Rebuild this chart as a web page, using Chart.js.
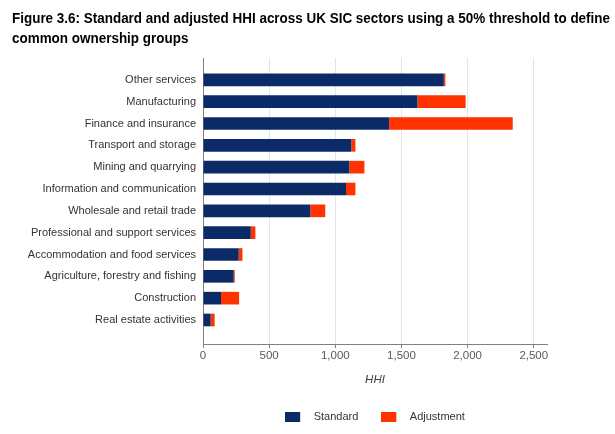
<!DOCTYPE html>
<html>
<head>
<meta charset="utf-8">
<script src="https://cdn.jsdelivr.net/npm/chart.js@4"></script>
<style>
  html, body { margin: 0; padding: 0; background: #fff; }
  #wrap { position: relative; width: 615px; height: 434px; }
  #figTitle {
    position: absolute; left: 12px; top: 8px; margin: 0;
    font: bold 15px/19.5px 'Liberation Sans', Arial, sans-serif;
    color: #000; white-space: nowrap;
    transform-origin: 0 0;
  }
</style>
</head>
<body>
<div id="wrap">
  <h1 id="figTitle"><span>Figure 3.6: Standard and adjusted HHI across UK SIC sectors using a 50% threshold to define</span><br><span>common ownership groups</span></h1>
  <canvas id="hhiChart" width="615" height="434"></canvas>
</div>
<script>
// Data
const sectors = [
    'Other services', 'Manufacturing', 'Finance and insurance', 'Transport and storage',
    'Mining and quarrying', 'Information and communication', 'Wholesale and retail trade',
    'Professional and support services', 'Accommodation and food services',
    'Agriculture, forestry and fishing', 'Construction', 'Real estate activities'
];
const standardHHI = [1820, 1621, 1407, 1121, 1106, 1081, 811, 361, 270, 232, 136, 58];
const adjustmentHHI = [12, 364, 934, 31, 114, 71, 113, 35, 28, 8, 137, 30];
const xTicks = [0, 500, 1000, 1500, 2000, 2500];

const NAVY = '#0a2b68';
const RED = '#ff3300';
const FONT = "'Liberation Sans', Arial, sans-serif";

// legend swatch: coloured 15x10 block with blank space after it
function swatch(colour) {
    const c = document.createElement('canvas');
    c.width = 23;
    c.height = 10;
    const g = c.getContext('2d');
    g.fillStyle = colour;
    g.fillRect(0, 0, 15, 10);
    return c;
}

document.addEventListener('DOMContentLoaded', function() {
    // the original heading uses a narrow bold face, squeeze it so the first line is as wide as there
    const title = document.getElementById('figTitle');
    const firstLine = title.querySelector('span').getBoundingClientRect().width;
    title.style.transform = 'scaleX(' + (598 / firstLine) + ')';

    const ctx = document.getElementById('hhiChart').getContext('2d');

    new Chart(ctx, {
        type: 'bar',
        data: {
            datasets: [{
                label: 'Standard',
                data: standardHHI.map((v, i) => ({ x: v, y: i })),
                backgroundColor: NAVY,
                pointStyle: swatch(NAVY)
            }, {
                label: 'Adjustment',
                data: adjustmentHHI.map((v, i) => ({ x: v, y: i })),
                backgroundColor: RED,
                pointStyle: swatch(RED)
            }]
        },
        options: {
            indexAxis: 'y',
            responsive: false,
            animation: false,
            categoryPercentage: 1,
            barPercentage: 0.58,
            layout: { padding: { left: 12, right: 68, top: 58, bottom: 12 } },
            scales: {
                x: {
                    type: 'linear',
                    stacked: true,
                    min: 0,
                    max: 2600,
                    afterBuildTicks: function(scale) {
                        scale.ticks = xTicks.map(v => ({ value: v }));
                    },
                    afterFit: function(scale) {
                        scale.height = 44;
                    },
                    grid: { color: '#dde7ee', tickColor: '#808080', tickLength: 4 },
                    border: { color: '#808080' },
                    ticks: {
                        padding: 1,
                        color: '#595959',
                        font: { family: FONT, size: 11.5 },
                        callback: v => v.toLocaleString('en-US')
                    },
                    title: {
                        display: true,
                        text: 'HHI',
                        color: '#404040',
                        font: { family: FONT, size: 11.5, style: 'italic' },
                        padding: { top: 0, bottom: 1 }
                    }
                },
                y: {
                    type: 'linear',
                    stacked: true,
                    reverse: true,
                    offset: false,
                    min: -1,
                    max: 12.1,
                    afterBuildTicks: function(scale) {
                        scale.ticks = sectors.map((s, i) => ({ value: i }));
                    },
                    afterFit: function(scale) {
                        scale.width = 191;
                    },
                    grid: { display: false, drawTicks: false },
                    border: { color: '#808080' },
                    ticks: {
                        padding: 7,
                        color: '#333333',
                        font: { family: FONT, size: 11 },
                        callback: v => sectors[v]
                    }
                }
            },
            plugins: {
                title: { display: false },
                legend: {
                    position: 'bottom',
                    fullSize: false,
                    maxHeight: 34,
                    labels: {
                        usePointStyle: true,
                        pointStyleWidth: 23,
                        boxHeight: 10,
                        padding: 23,
                        color: '#333333',
                        font: { family: FONT, size: 11 }
                    }
                },
                tooltip: { enabled: false }
            }
        }
    });
});
</script>
</body>
</html>
